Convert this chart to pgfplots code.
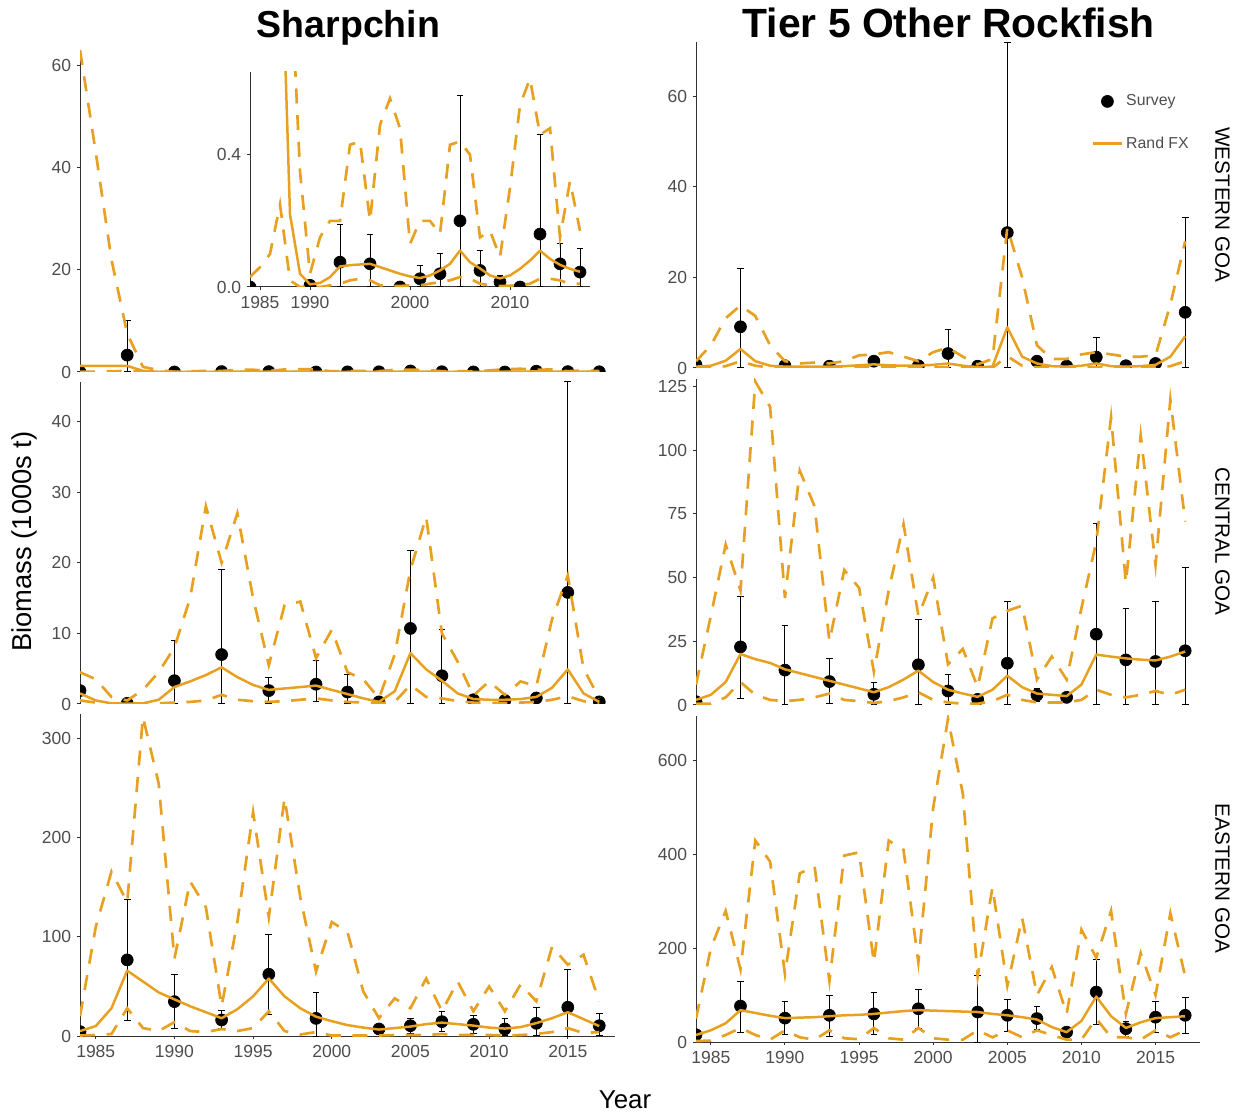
\documentclass[border=0pt]{standalone}
\usepackage{fontspec}
\setmainfont{Liberation Sans}
\usepackage{pgfplots}
\pgfplotsset{compat=1.18}
\usepackage{pgfplotstable}
\definecolor{rfx}{RGB}{232,160,32}
\definecolor{tickgray}{RGB}{77,77,77}

% ---------------- Sharpchin WESTERN ----------------
\pgfplotstableread{
year est lo hi
1984 1.2 0.03 63
1985 1.2 0.06 43
1986 1.2 0.10 22
1987 1.2 0.25 7.5
1988 0.22 0.02 1.0
1989 0.04 0.00 0.35
1990 0.008 0.00 0.04
1991 0.012 0.00 0.15
1992 0.03 0.005 0.2
1993 0.062 0.01 0.2
1994 0.066 0.02 0.43
1995 0.068 0.025 0.44
1996 0.07 0.02 0.2
1997 0.06 0.005 0.49
1998 0.05 0.003 0.57
1999 0.04 0.003 0.48
2000 0.032 0.005 0.13
2001 0.027 0.005 0.2
2002 0.035 0.01 0.2
2003 0.05 0.015 0.16
2004 0.07 0.02 0.43
2005 0.11 0.03 0.44
2006 0.075 0.025 0.4
2007 0.056 0.01 0.15
2008 0.035 0.005 0.17
2009 0.026 0.003 0.09
2010 0.035 0.004 0.3
2011 0.055 0.005 0.55
2012 0.08 0.01 0.63
2013 0.11 0.025 0.46
2014 0.085 0.025 0.48
2015 0.067 0.02 0.15
2016 0.055 0.01 0.32
2017 0.046 0.01 0.17
}\SWest
\pgfplotstableread{
year obs lo hi
1984 0.0 0 0
1987 3.3 0 10
1990 0.005 0 0.005
1993 0.075 0 0.19
1996 0.07 0 0.16
1999 0.0 0 0
2001 0.025 0 0.065
2003 0.04 0 0.10
2005 0.2 0 0.58
2007 0.05 0 0.11
2009 0.015 0 0.035
2011 0.0 0 0
2013 0.16 0 0.46
2015 0.07 0 0.13
2017 0.045 0 0.115
}\SWsurv
\pgfplotstableread{
year obs lo hi
1984 0.0 0 0
1990 0.005 0 0.005
1993 0.075 0 0.19
1996 0.07 0 0.16
1999 0.0 0 0
2001 0.025 0 0.065
2003 0.04 0 0.10
2005 0.2 0 0.58
2007 0.05 0 0.11
2009 0.015 0 0.035
2011 0.0 0 0
2013 0.16 0 0.46
2015 0.07 0 0.13
2017 0.045 0 0.115
}\SWsurvI

% ---------------- Sharpchin CENTRAL ----------------
\pgfplotstableread{
year est lo hi
1984 1.5 0.5 4.5
1985 0.5 0.2 3.5
1986 0.1 0.05 1.0
1987 0.05 0.02 0.5
1988 0.1 0.05 2.0
1989 0.6 0.1 4.5
1990 2.4 0.2 8.0
1991 3.2 0.3 15
1992 4.1 0.5 28
1993 5.2 1.3 20
1994 3.8 0.6 27
1995 2.7 0.4 15
1996 2.0 0.3 5.5
1997 2.2 0.4 14
1998 2.4 0.6 14.5
1999 2.6 0.8 6.5
2000 2.0 0.5 10.5
2001 1.4 0.3 4.5
2002 0.8 0.2 3.5
2003 0.3 0.1 0.8
2004 1.8 0.3 7
2005 7.2 2.7 19
2006 4.9 1.0 26.5
2007 3.3 0.8 10
2008 1.5 0.4 6
2009 0.7 0.2 1.2
2010 0.6 0.15 3.2
2011 0.6 0.15 1.3
2012 0.7 0.2 3.2
2013 1.0 0.3 2.5
2014 2.3 0.6 12
2015 4.9 1.1 18.2
2016 1.5 0.4 5
2017 0.3 0.1 0.8
}\SCest
\pgfplotstableread{
year obs lo hi
1984 1.9 1.9 1.9
1987 0.1 0.1 0.1
1990 3.3 0 9.0
1993 7.0 0 19.0
1996 1.9 0 3.8
1999 2.8 0.3 6.1
2001 1.7 0 4.2
2003 0.3 0.3 0.3
2005 10.7 0 21.7
2007 4.0 0 10.6
2009 0.6 0.6 0.6
2011 0.5 0.5 0.5
2013 0.85 0.2 1.5
2015 15.8 0 45.6
2017 0.3 0.3 0.3
}\SCsurv

% ---------------- Sharpchin EASTERN ----------------
\pgfplotstableread{
year est lo hi
1984 5 0.5 20
1985 10 1 110
1986 28 2 166
1987 66 28 135
1988 55 8 322
1989 44 5 255
1990 37 14 78
1991 30 5 156
1992 24 4 130
1993 18 7 30
1994 27 5 115
1995 40 8 226
1996 58 25 120
1997 40 5 240
1998 28 1.5 140
1999 19.5 4 65
2000 15 0.5 115
2001 11 0.5 105
2002 8.5 0.5 45
2003 6.5 0.5 18
2004 8 1 38
2005 9.5 1 28
2006 12 1 58
2007 13.5 2 25
2008 12 1 55
2009 10.5 1 25
2010 8.5 1 50
2011 7.5 0.5 25
2012 9 1 52
2013 13 2 35
2014 18 4 90
2015 24 8 72
2016 17 3 82
2017 10 4 35
}\SEest
\pgfplotstableread{
year obs lo hi
1984 4.4 4.4 4.4
1987 76.8 15.2 138
1990 34.7 7.7 61.6
1993 16.2 7.7 25.3
1996 62.3 22.2 102
1999 17.8 0 44.1
2003 7.1 2.7 11.8
2005 10.4 2.7 17.2
2007 14.5 4.4 25
2009 11.8 2.7 20.5
2011 7.1 1 17.2
2013 12.8 1 28.6
2015 29 0 67.3
2017 10.4 1 22.9
}\SEsurv

% ---------------- Tier 5 WESTERN ----------------
\pgfplotstableread{
year est lo hi
1984 0.3 0.05 1.5
1985 0.5 0.1 5
1986 1.6 0.4 11
1987 4.2 1.5 13.8
1988 1.5 0.5 11.5
1989 0.5 0.1 5
1990 0.3 0.05 1.5
1991 0.3 0.05 1.0
1992 0.3 0.05 1.2
1993 0.3 0.05 1.0
1994 0.4 0.05 1.5
1995 0.6 0.1 2.8
1996 0.8 0.1 3.0
1997 0.6 0.1 3.5
1998 0.5 0.1 2.5
1999 0.5 0.05 1.5
2000 0.7 0.1 3.5
2001 1.0 0.2 4.5
2002 0.5 0.1 2.5
2003 0.2 0.05 0.8
2004 0.3 0.05 2
2005 9.0 2.6 31
2006 2.5 0.5 20
2007 1.0 0.2 5
2008 0.4 0.05 2.0
2009 0.3 0.05 2.0
2010 0.5 0.1 3.0
2011 1.0 0.2 3.5
2012 0.4 0.1 3.0
2013 0.3 0.05 2.5
2014 0.4 0.1 2.5
2015 0.7 0.1 2.8
2016 2.5 0.4 14
2017 7.0 1.5 28
}\TWest
\pgfplotstableread{
year obs lo hi
1984 0.7 0.7 0.7
1987 9.1 0 21.9
1990 0.5 0.5 0.5
1993 0.4 0.4 0.4
1996 1.5 0.5 2.5
1999 0.5 0.5 0.5
2001 3.2 0 8.5
2003 0.4 0.4 0.4
2005 29.9 0 72
2007 1.5 0.3 2.5
2009 0.4 0.4 0.4
2011 2.4 0 6.8
2013 0.5 0.5 0.5
2015 1.0 0.5 1.5
2017 12.3 0 33.3
}\TWsurv

% ---------------- Tier 5 CENTRAL ----------------
\pgfplotstableread{
year est lo hi
1984 2 0.5 8
1985 4 0.5 35
1986 9 3 63
1987 20 9 45
1988 18 4 127
1989 16.5 2 117
1990 14 1.5 42
1991 12.5 2 92
1992 11 3 78
1993 9.5 4.5 25
1994 8 2 53
1995 6.5 1.5 46
1996 5 0.8 13
1997 7 1.5 45
1998 10 3 71
1999 13.5 5 35
2000 9 2 50
2001 6 1 16
2002 4.5 0.5 22
2003 3.2 0.5 7
2004 6 1.5 34
2005 11.5 4 37
2006 7 2 39
2007 4.5 1 10
2008 4 1 19
2009 3.5 1 10
2010 8 2 38
2011 19.8 6 64
2012 19 4 113
2013 18.3 3 48
2014 17.8 4 106
2015 17.5 5.5 55
2016 19 4 120
2017 21 6 72
}\TCest
\pgfplotstableread{
year obs lo hi
1984 1.3 1.3 1.3
1987 22.8 2.6 42.7
1990 13.7 0 31.2
1993 9.2 0.7 18.1
1996 4.2 0 8.8
1999 15.8 0 33.5
2001 5.5 0 12.1
2003 2.2 0.5 4
2005 16.4 0 40.7
2007 3.9 1.3 6.6
2009 3.0 3.0 3.0
2011 27.8 0 71.4
2013 17.7 0 37.8
2015 17.1 0 40.7
2017 21.3 0 53.8
}\TCsurv

% ---------------- Tier 5 EASTERN ----------------
\pgfplotstableread{
year est lo hi
1984 15 2 50
1985 25 3 200
1986 40 15 280
1987 68 30 155
1988 62 15 430
1989 56 5 385
1990 51 25 145
1991 52 10 360
1992 53 5 375
1993 55 25 130
1994 57 8 398
1995 58 6 405
1996 60 30 170
1997 63 8 430
1998 66 5 410
1999 68 30 170
2000 67 8 500
2001 66 5 690
2002 65 5 530
2003 64 25 140
2004 60 10 330
2005 57 25 120
2006 53 10 265
2007 48 25 100
2008 32 15 160
2009 21 5 60
2010 45 5 240
2011 97 50 180
2012 55 10 280
2013 30 10 60
2014 42 5 190
2015 51 25 100
2016 53 10 275
2017 55 25 140
}\TEest
\pgfplotstableread{
year obs lo hi
1984 15.6 15.6 15.6
1987 76.7 21 129
1990 51 15.6 87
1993 57 12 100
1996 60 15.6 106.5
1999 71 28 113
2003 64 0 142
2005 57 22.7 91.6
2007 50 26 76
2009 21 14 28
2011 106.5 37 176
2013 28.4 12 44.7
2015 53 21 86.6
2017 57 17.8 96
}\TEsurv

\pgfplotsset{
  base/.style={
    scale only axis, xmin=1984, xmax=2018, ymin=0,
    axis y line*=left,
    tick align=outside, major tick length=1.8pt,
    axis line style={draw=black!80, line width=0.6pt},
    tick style={draw=black!80, line width=0.6pt},
    ticklabel style={font=\fontsize{10.5}{12}\selectfont, text=tickgray},
    /pgf/number format/assume math mode=true,
    /pgf/number format/1000 sep={},
    clip marker paths=true,
  },
  notbottom/.style={axis x line=none},
  bottom/.style={axis x line*=bottom, xtick={1985,1990,...,2015}},
  survey/.style={only marks, mark=*, mark size=3.6pt,
    mark options={draw=black, fill=black},
    error bars/.cd, y dir=both, y explicit,
    error bar style={line width=0.6pt, draw=black},
    error mark options={rotate=90, draw=black, line width=0.6pt, mark size=2pt}},
  rfxsolid/.style={draw=rfx, line width=1.5pt, mark=none, line join=round},
  rfxdash/.style={draw=rfx, line width=1.6pt, mark=none, dash pattern=on 9pt off 7pt},
}

\newcommand{\drawpanel}[2]{%
  \addplot[survey] table[x=year, y=obs,
     y error plus expr=\thisrow{hi}-\thisrow{obs},
     y error minus expr=\thisrow{obs}-\thisrow{lo}] {#2};
  \addplot[rfxdash, forget plot] table[x=year, y=lo] {#1};
  \addplot[rfxdash, forget plot] table[x=year, y=hi] {#1};
  \addplot[rfxsolid] table[x=year, y=est] {#1};
}

\begin{document}
\begin{tikzpicture}
\path[use as bounding box] (0,0) rectangle (742.8pt,669pt);

% ---------- left column ----------
\begin{axis}[base, notbottom, at={(48pt,445.8pt)}, anchor=south west,
  width=321pt, height=193.2pt, ymax=63, ytick={0,20,40,60}]
\drawpanel{\SWest}{\SWsurv}
\end{axis}

\begin{axis}[base, axis x line*=bottom, at={(150pt,496.8pt)}, anchor=south west,
  width=204pt, height=129pt, ymax=0.65, ytick={0,0.4},
  xtick={1985,1990,2000,2010},
  yticklabel style={/pgf/number format/.cd, fixed, fixed zerofill, precision=1}]
\drawpanel{\SWest}{\SWsurvI}
\end{axis}

\begin{axis}[base, notbottom, at={(48pt,246.6pt)}, anchor=south west,
  width=321pt, height=193.2pt, ymax=45.6, ytick={0,10,20,30,40}]
\drawpanel{\SCest}{\SCsurv}
\end{axis}

\begin{axis}[base, bottom, at={(48pt,47.4pt)}, anchor=south west,
  width=321pt, height=193.2pt, ymax=325, ytick={0,100,200,300}]
\drawpanel{\SEest}{\SEsurv}
\end{axis}

% ---------- right column ----------
\begin{axis}[base, notbottom, at={(417.6pt,448.2pt)}, anchor=south west,
  width=302.4pt, height=195.6pt, ymax=72, ytick={0,20,40,60},
  legend style={at={(0.775,0.86)}, anchor=north west, draw=none, fill=none,
    font=\fontsize{9.5}{11}\selectfont, text=tickgray, row sep=13pt},
  legend cell align=left]
\drawpanel{\TWest}{\TWsurv}
\addlegendentry{Survey}
\addlegendentry{Rand FX}
\end{axis}

\begin{axis}[base, notbottom, at={(417.6pt,246pt)}, anchor=south west,
  width=302.4pt, height=195.6pt, ymax=128, ytick={0,25,50,75,100,125}]
\drawpanel{\TCest}{\TCsurv}
\end{axis}

\begin{axis}[base, bottom, at={(417.6pt,43.8pt)}, anchor=south west,
  width=302.4pt, height=195.6pt, ymax=696, ytick={0,200,400,600}]
\drawpanel{\TEest}{\TEsurv}
\end{axis}

% ---------- titles and labels ----------
\node[anchor=base, font=\fontsize{22.5}{26}\selectfont\bfseries] at (209.1pt,646.6pt) {Sharpchin};
\node[anchor=base, font=\fontsize{24.5}{28}\selectfont\bfseries] at (569.2pt,646.6pt) {Tier 5 Other Rockfish};
\node[rotate=-90, font=\fontsize{12.4}{14}\selectfont] at (733.5pt,546pt) {WESTERN GOA};
\node[rotate=-90, font=\fontsize{12.4}{14}\selectfont] at (733.5pt,344.1pt) {CENTRAL GOA};
\node[rotate=-90, font=\fontsize{12.4}{14}\selectfont] at (733.5pt,141.9pt) {EASTERN GOA};
\node[rotate=90, font=\fontsize{16.4}{19}\selectfont] at (14.4pt,344.1pt) {Biomass (1000s t)};
\node[anchor=base, font=\fontsize{15.5}{18}\selectfont] at (375pt,4.2pt) {Year};
\end{tikzpicture}
\end{document}
